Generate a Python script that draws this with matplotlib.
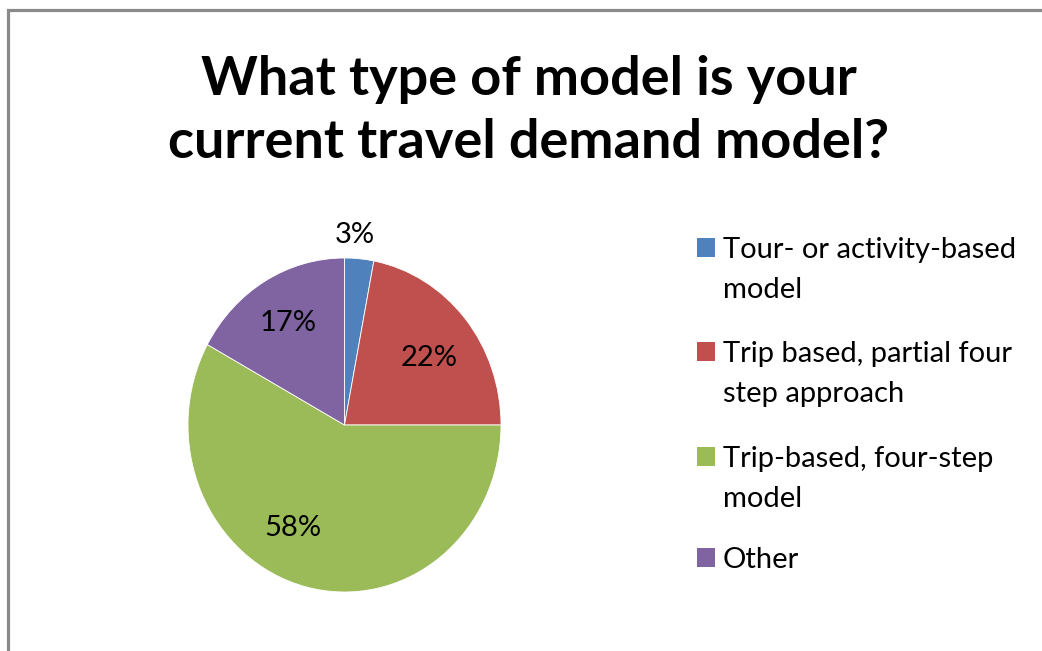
"""Pie chart: survey answer on current travel demand model type."""
import matplotlib

matplotlib.use("Agg")
import matplotlib.pyplot as plt
import numpy as np
from matplotlib.patches import Rectangle

plt.rcParams["font.family"] = ["Lato", "DejaVu Sans"]

TITLE = ["What type of model is your", "current travel demand model?"]
CATEGORIES = [
    "Tour- or activity-based\nmodel",
    "Trip based, partial four\nstep approach",
    "Trip-based, four-step\nmodel",
    "Other",
]
SHARES = [3, 22, 58, 17]
COLORS = ["#4F81BD", "#C0504D", "#9BBB59", "#8064A2"]

# label placement: radius (in pie radii) and angular nudge (deg) per slice
LABEL_R = [1.14, 0.67, 0.70, 0.71]
LABEL_NUDGE = [2, -3, -14, 0]

W, H = 1042, 651
fig = plt.figure(figsize=(W / 100, H / 100), dpi=100)

# pie area in pixels: left, bottom, width, height
px = (188, H - 592, 313, 334)
ax = fig.add_axes([px[0] / W, px[1] / H, px[2] / W, px[3] / H])
wedges, _ = ax.pie(
    SHARES,
    colors=COLORS,
    startangle=90,
    counterclock=False,
    radius=1.0,
    wedgeprops=dict(edgecolor="white", linewidth=0.6),
)
ax.set_aspect("auto")
ax.set_xlim(-1, 1)
ax.set_ylim(-1, 1)
ax.axis("off")

for w, share, r, nudge in zip(wedges, SHARES, LABEL_R, LABEL_NUDGE):
    mid = np.deg2rad((w.theta1 + w.theta2) / 2 + nudge)
    ax.text(r * np.cos(mid), r * np.sin(mid), f"{share}%",
            ha="center", va="center", fontsize=21, color="black")

# title, one baseline per line
for base, line in zip([95, 158], TITLE):
    fig.text(529 / W, 1 - base / H, line, ha="center", va="baseline",
             fontsize=39, fontweight="bold")

# legend drawn by hand so each swatch sits on the first text line
first_base = [258, 362, 467, 568]
line_gap = 40
for base, label, color in zip(first_base, CATEGORIES, COLORS):
    fig.add_artist(Rectangle((697 / W, 1 - (base - 1) / H), 18 / W, 19 / H,
                             transform=fig.transFigure, facecolor=color,
                             edgecolor="none"))
    for i, line in enumerate(label.split("\n")):
        fig.text(723 / W, 1 - (base + i * line_gap) / H, line, ha="left",
                 va="baseline", fontsize=21, color="black")

# outer chart frame (only the top and left edges are in view)
fig.add_artist(Rectangle((7.5 / W, -0.5), 2, 1.5 - 9.5 / H,
                         transform=fig.transFigure, facecolor="none",
                         edgecolor="#8a8a8a", linewidth=2.3))

fig.savefig("out.png", dpi=100)
